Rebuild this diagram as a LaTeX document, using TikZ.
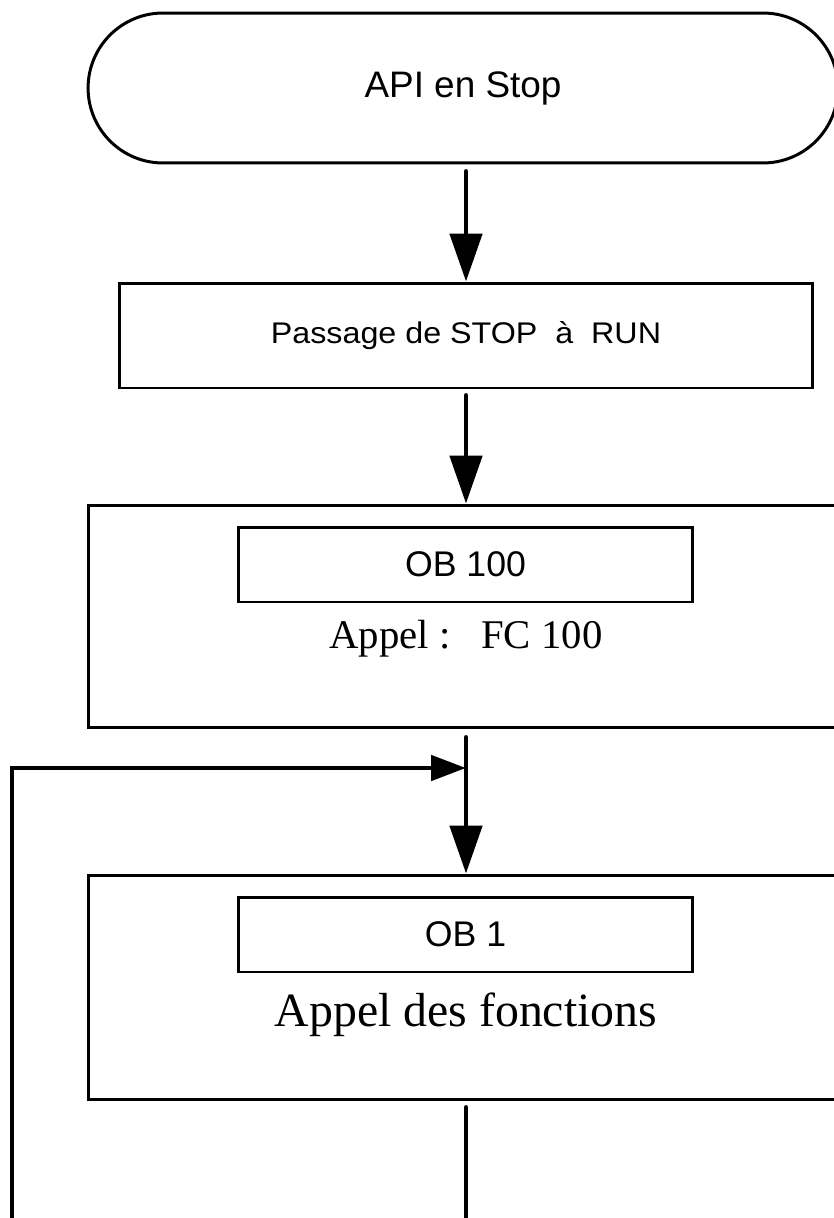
\documentclass[tikz,border=0pt]{standalone}
\usepackage{fontspec}
\setmainfont{Liberation Serif}
\setsansfont{Liberation Sans}
\usepackage{tikz}
\usetikzlibrary{arrows.meta}
\usetikzlibrary{positioning}
\tikzset{box/.style = {draw, line width = 1.7pt, inner sep = 0pt},
         flow/.style = {line width = 2.8pt, line cap = round,
                        -{Triangle[length = 0.96cm, width = 0.64cm]}},
         backflow/.style = {line width = 2.8pt, line cap = round,
                            -{Triangle[length = 0.7cm, width = 0.5cm]}},
         plain/.style = {line width = 2.8pt, line cap = round}}

\begin{document}
\begin{tikzpicture}[x = 0.02cm, y = -0.02cm]
      \useasboundingbox (0, 0) rectangle (834, 1218);
      \clip (0, 0) rectangle (834, 1218);
      \node [box, rounded corners = 1.5cm, minimum width = 15cm, minimum height = 3cm,
             font = \sffamily\fontsize{21}{25}\selectfont] (stop) at (463, 88) {API en Stop};
      \node [box, minimum width = 13.88cm, minimum height = 2.1cm,
             font = \sffamily\fontsize{17}{20}\selectfont] (pass) at (466, 335.5)
             {\scalebox{1.08}[1]{Passage de STOP\ \ à\ \ RUN}};
      \node [box, minimum width = 15.12cm, minimum height = 4.46cm] (ob100frame) at (466, 616.5) {};
      \node [box, minimum width = 9.1cm, minimum height = 1.5cm,
             font = \sffamily\fontsize{20.3}{24}\selectfont] (ob100) at (465.5, 564.5) {OB 100};
      \node [font = \fontsize{23.2}{27}\selectfont] (fc100) at (466, 639) {Appel :\ \ \ FC 100};
      \node [box, minimum width = 15.12cm, minimum height = 4.5cm] (ob1frame) at (466, 987.5) {};
      \node [box, minimum width = 9.1cm, minimum height = 1.5cm,
             font = \sffamily\fontsize{20.3}{24}\selectfont] (ob1) at (465.5, 934.5) {OB 1};
      \node [font = \fontsize{27.2}{32}\selectfont] (fonctions) at (466, 1015) {Appel des fonctions};
      \coordinate (loopin) at (466, 768);
      \coordinate (loopout) at (12, 1218);
      \coordinate (bottom) at (466, 1218);
      \draw [flow] ([yshift = -0.14cm]stop.south -| pass.north) -- (pass.north);
      \draw [flow] ([yshift = -0.12cm]pass.south) -- (ob100frame.north);
      \draw [flow] ([yshift = -0.16cm]ob100frame.south) -- (ob1frame.north);
      \draw [backflow] (loopout) |- (loopin);
      \draw [plain] ([yshift = -0.12cm]ob1frame.south) -- (bottom);
    \end{tikzpicture}
\end{document}
